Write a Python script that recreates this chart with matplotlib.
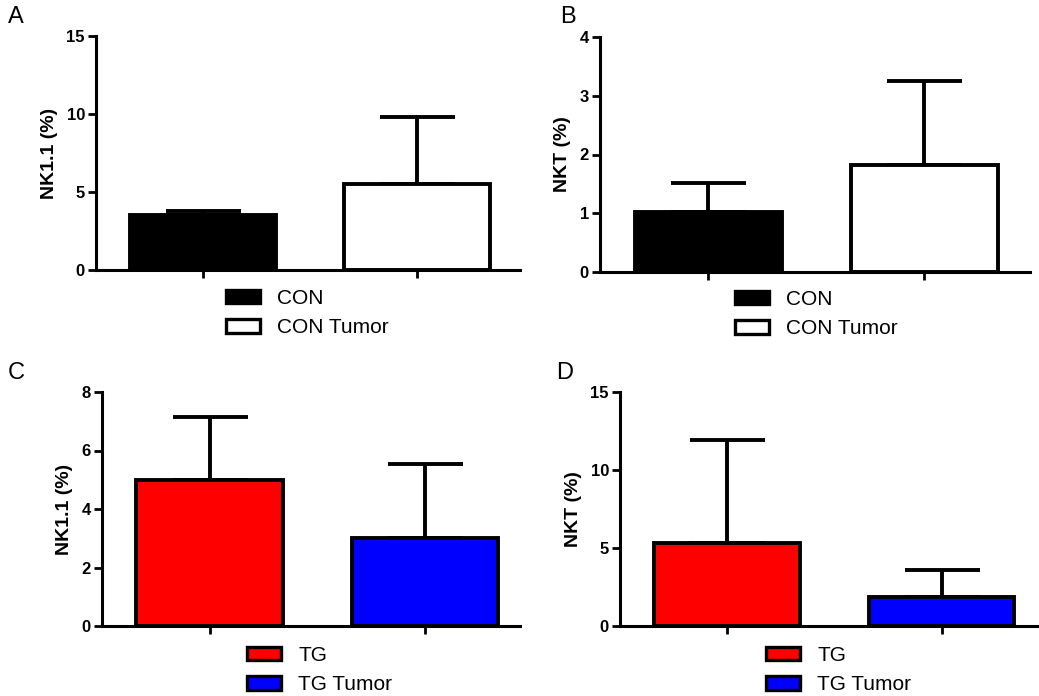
import matplotlib
matplotlib.use("Agg")
import matplotlib.pyplot as plt
from matplotlib.patches import Patch

plt.rcParams['font.family'] = ['Liberation Sans', 'DejaVu Sans']

# Data
groups_con = ["CON", "CON Tumor"]
groups_tg = ["TG", "TG Tumor"]

nk_con = [3.5, 5.5]
nk_con_err = [0.3, 4.3]
nkt_con = [1.02, 1.82]
nkt_con_err = [0.5, 1.43]

nk_tg = [5.0, 3.02]
nk_tg_err = [2.15, 2.53]
nkt_tg = [5.3, 1.85]
nkt_tg_err = [6.6, 1.75]

con_colors = ["#000000", "#ffffff"]
tg_colors = ["#ff0000", "#0000ff"]

fig = plt.figure(figsize=(10.39, 6.96), dpi=100)

W, H = 1039, 696


def make_axes(left, right, top, bottom):
    return fig.add_axes([left / W, 1 - bottom / H, (right - left) / W, (bottom - top) / H])


panels = [
    # letter, axes px box, letter pos, values, errors, colors, labels, ylabel, ylim, yticks, xright, legend pos
    ("A", (96, 520, 36, 270), (8, 28), nk_con, nk_con_err, con_colors, groups_con,
     "NK1.1 (%)", 15, [0, 5, 10, 15], 1.48, (226, 289)),
    ("B", (600, 1030, 37, 272), (560, 28), nkt_con, nkt_con_err, con_colors, groups_con,
     "NKT (%)", 4, [0, 1, 2, 3, 4], 1.49, (735, 290)),
    ("C", (102, 520, 392, 626), (8, 384), nk_tg, nk_tg_err, tg_colors, groups_tg,
     "NK1.1 (%)", 8, [0, 2, 4, 6, 8], 1.44, (247, 646)),
    ("D", (620, 1038, 392, 626), (556, 384), nkt_tg, nkt_tg_err, tg_colors, groups_tg,
     "NKT (%)", 15, [0, 5, 10, 15], 1.45, (766, 646)),
]

for letter, box, lpos, vals, errs, cols, labels, ylab, ymax, yticks, xr, legpos in panels:
    ax = make_axes(*box)
    x = [0, 1]
    ax.bar(x, vals, width=0.68, color=cols, edgecolor="black", linewidth=2.8, zorder=2)
    ax.errorbar(x, vals, yerr=[[0, 0], errs], fmt="none", ecolor="black",
                elinewidth=2.8, capsize=27, capthick=2.8, zorder=1)
    ax.set_xlim(-0.5, xr)
    ax.set_ylim(0, ymax)
    ax.set_yticks(yticks)
    ax.set_xticks(x)
    ax.set_xticklabels(["", ""])
    for s in ["top", "right"]:
        ax.spines[s].set_visible(False)
    for s in ["left", "bottom"]:
        ax.spines[s].set_linewidth(2.2)
    ax.tick_params(axis="both", direction="out", length=6, width=2, pad=2)
    for t in ax.get_yticklabels():
        t.set_fontweight("bold")
        t.set_fontsize(12)
    ax.set_ylabel(ylab, fontsize=14, fontweight="bold", labelpad=6)
    fig.text(lpos[0] / W, 1 - lpos[1] / H, letter, fontsize=17, va="bottom", ha="left")
    handles = [Patch(facecolor=c, edgecolor="black", linewidth=2.4) for c in cols]
    fig.legend(handles, labels, loc="upper left",
               bbox_to_anchor=(legpos[0] / W, 1 - legpos[1] / H),
               frameon=False, fontsize=15, handlelength=1.65, handleheight=0.63,
               handletextpad=0.8, labelspacing=0.5, borderpad=0, borderaxespad=0)

fig.savefig("out.png", dpi=100)
